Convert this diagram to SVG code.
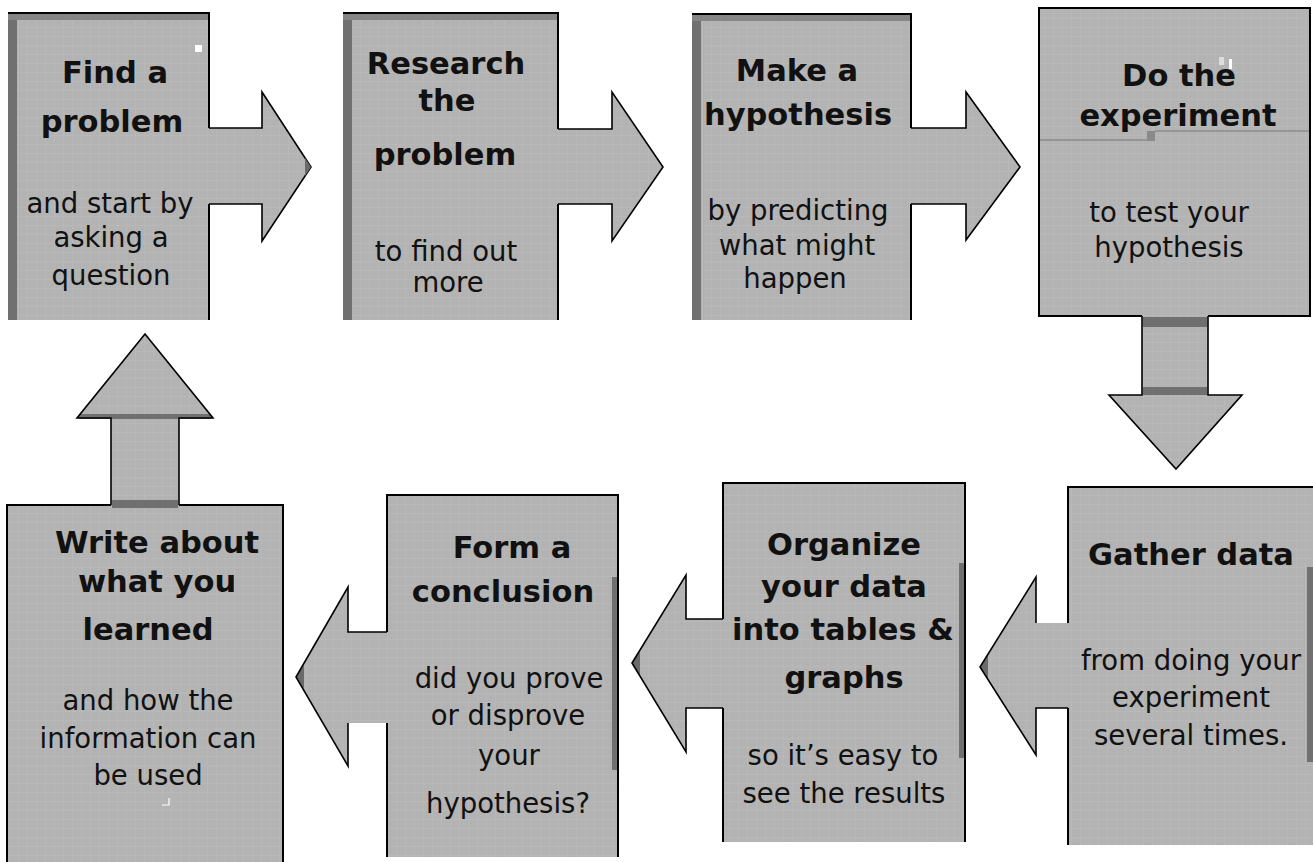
<svg xmlns="http://www.w3.org/2000/svg" width="1313" height="862" viewBox="0 0 1313 862">
  <defs>
    <!-- faint cell texture used on every panel -->
    <pattern id="cells" width="9" height="9" patternUnits="userSpaceOnUse">
      <rect width="9" height="9" fill="#b3b3b3"/>
      <path d="M0 0.5 H9 M0.5 0 V9" stroke="#b8b8b8" stroke-width="1"/>
    </pattern>
  </defs>
  <style>
    .panel { fill: url(#cells); }
    .edge { stroke: #000; stroke-width: 2; fill: none; }
    .band { fill: #707070; }
    .topband { fill: #858585; }
    .afill { fill: url(#cells); }
    .aline { stroke: #000; stroke-width: 1.6; fill: none; stroke-linejoin: miter; }
    .tipshade { fill: #6a6a6a; }
    .title { font-family: "DejaVu Sans", Verdana, sans-serif; font-weight: bold; font-size: 30.5px; fill: #111; text-anchor: middle; }
    .body { font-family: "DejaVu Sans", Verdana, sans-serif; font-size: 27.5px; fill: #111; text-anchor: middle; }
    .fleck { fill: #ffffff; }
  </style>
  <rect width="1313" height="862" fill="#ffffff"/>

  <!-- Step 1 -->
  <g id="find-problem">
    <rect class="panel" x="8" y="12" width="201" height="308"/>
    <rect class="band" x="8" y="12" width="9" height="308"/>
    <rect class="topband" x="8" y="13" width="201" height="7"/>
    <path class="edge" d="M8 13 H209 V320"/>
    <rect class="fleck" x="195" y="45" width="7" height="7"/>
    <text class="title" x="115" y="83">Find a</text>
    <text class="title" x="112" y="132">problem</text>
    <text class="body" x="110" y="213">and start by</text>
    <text class="body" x="111" y="247">asking a</text>
    <text class="body" x="111" y="285">question</text>
  </g>

  <!-- Step 2 -->
  <g id="research-problem">
    <rect class="panel" x="343" y="12" width="215" height="308"/>
    <rect class="band" x="343" y="12" width="9" height="308"/>
    <rect class="topband" x="343" y="13" width="215" height="7"/>
    <path class="edge" d="M343 13 H558 V320"/>
    <text class="title" x="446" y="74">Research</text>
    <text class="title" x="447" y="111">the</text>
    <text class="title" x="445" y="165">problem</text>
    <text class="body" x="446" y="261">to find out</text>
    <text class="body" x="448" y="292">more</text>
  </g>

  <!-- Step 3 -->
  <g id="make-hypothesis">
    <rect class="panel" x="692" y="13" width="219" height="307"/>
    <rect class="band" x="692" y="13" width="9" height="307"/>
    <rect class="topband" x="692" y="14" width="219" height="7"/>
    <path class="edge" d="M692 14 H911 V320"/>
    <text class="title" x="797" y="81">Make a</text>
    <text class="title" x="798" y="125" font-size="29">hypothesis</text>
    <text class="body" x="798" y="220">by predicting</text>
    <text class="body" x="797" y="255">what might</text>
    <text class="body" x="795" y="288">happen</text>
  </g>

  <!-- Step 4 -->
  <g id="do-experiment">
    <rect class="panel" x="1039" y="8" width="271" height="308"/>
    <path d="M1040 140 H1147 M1155 131 H1309" stroke="#8c8c8c" stroke-width="1.5" fill="none"/>
    <rect x="1147" y="131" width="8" height="10" fill="#8a8a8a"/>
    <rect x="1219" y="57" width="5" height="8" fill="#dddddd"/>
    <rect x="1229" y="59" width="3" height="10" fill="#ffffff"/>
    <rect class="edge" x="1039" y="8" width="271" height="308"/>
    <text class="title" x="1179" y="86">Do the</text>
    <text class="title" x="1178" y="126">experiment</text>
    <text class="body" x="1169" y="222">to test your</text>
    <text class="body" x="1169" y="257">hypothesis</text>
  </g>

  <!-- Step 5 -->
  <g id="gather-data">
    <rect class="panel" x="1068" y="487" width="245" height="358"/>
    <rect class="band" x="1307" y="567" width="6" height="195"/>
    <path class="edge" d="M1068 845 V487 H1313"/>
    <text class="title" x="1191" y="565">Gather data</text>
    <text class="body" x="1191" y="670">from doing your</text>
    <text class="body" x="1191" y="707">experiment</text>
    <text class="body" x="1191" y="745">several times.</text>
  </g>

  <!-- Step 6 -->
  <g id="organize-data">
    <rect class="panel" x="723" y="483" width="242" height="359"/>
    <rect class="band" x="959" y="563" width="6" height="195"/>
    <path class="edge" d="M723 842 V483 H965 V842"/>
    <text class="title" x="844" y="555">Organize</text>
    <text class="title" x="844" y="597">your data</text>
    <text class="title" x="843" y="640">into tables &amp;</text>
    <text class="title" x="844" y="688">graphs</text>
    <text class="body" x="843" y="765">so it’s easy to</text>
    <text class="body" x="844" y="803">see the results</text>
  </g>

  <!-- Step 7 -->
  <g id="form-conclusion">
    <rect class="panel" x="387" y="495" width="231" height="362"/>
    <rect class="band" x="612" y="577" width="6" height="193"/>
    <path class="edge" d="M387 857 V495 H618 V857"/>
    <text class="title" x="512" y="558">Form a</text>
    <text class="title" x="503" y="602">conclusion</text>
    <text class="body" x="509" y="688">did you prove</text>
    <text class="body" x="508" y="725">or disprove</text>
    <text class="body" x="509" y="765">your</text>
    <text class="body" x="508" y="813">hypothesis?</text>
  </g>

  <!-- Step 8 -->
  <g id="write-about">
    <rect class="panel" x="7" y="505" width="276" height="357"/>
    <path class="edge" d="M7 862 V505 H283 V862"/>
    <path d="M162 805 H169 V798" stroke="#ffffff" stroke-width="1.2" fill="none"/>
    <text class="title" x="157" y="553">Write about</text>
    <text class="title" x="157" y="592">what you</text>
    <text class="title" x="148" y="640">learned</text>
    <text class="body" x="148" y="710">and how the</text>
    <text class="body" x="148" y="748">information can</text>
    <text class="body" x="148" y="785">be used</text>
  </g>

  <!-- Block arrows joining the steps -->
  <g id="connectors">
    <!-- 1 to 2 -->
    <path class="afill" d="M206 128 H262 V92 L311 167 L262 241 V204 H206 Z"/>
    <path class="aline" d="M209 128 H262 V92 L311 167 L262 241 V204 H209"/>
    <polygon class="tipshade" points="311,167 305,158 305,176"/>
    <!-- 2 to 3 -->
    <path class="afill" d="M555 129 H612 V92 L663 167 L612 241 V204 H555 Z"/>
    <path class="aline" d="M558 129 H612 V92 L663 167 L612 241 V204 H558"/>
    <!-- 3 to 4 -->
    <path class="afill" d="M908 128 H966 V92 L1020 167 L966 240 V204 H908 Z"/>
    <path class="aline" d="M911 128 H966 V92 L1020 167 L966 240 V204 H911"/>
    <!-- 4 to 5 -->
    <path class="afill" d="M1142 313 V395 H1109 L1176 469 L1242 395 H1208 V313 Z"/>
    <rect class="band" x="1143" y="317" width="64" height="10"/>
    <rect class="band" x="1143" y="387" width="64" height="8"/>
    <path class="aline" d="M1142 316 V395 H1109 L1176 469 L1242 395 H1208 V316"/>
    <!-- 5 to 6 -->
    <path class="afill" d="M1071 623 H1036 V577 L980 667 L1036 755 V708 H1071 Z"/>
    <polygon class="tipshade" points="980,667 988,655 988,679"/>
    <path class="aline" d="M1036 623 V577 L980 667 L1036 755 V708 H1068"/>
    <!-- 6 to 7 -->
    <path class="afill" d="M726 619 H686 V575 L632 663 L686 752 V708 H726 Z"/>
    <polygon class="tipshade" points="632,663 640,651 640,675"/>
    <path class="aline" d="M723 619 H686 V575 L632 663 L686 752 V708 H723"/>
    <!-- 7 to 8 -->
    <path class="afill" d="M390 632 H348 V587 L296 677 L348 766 V723 H390 Z"/>
    <polygon class="tipshade" points="296,677 304,665 304,689"/>
    <path class="aline" d="M387 632 H348 V587 L296 677 L348 766 V723"/>
    <!-- 8 back to 1 -->
    <path class="afill" d="M111 508 V418 H77 L145 334 L213 418 H179 V508 Z"/>
    <rect class="band" x="79" y="414" width="132" height="5"/>
    <rect class="band" x="112" y="500" width="66" height="8"/>
    <path class="aline" d="M111 505 V418 H77 L145 334 L213 418 H179 V505"/>
  </g>
</svg>
